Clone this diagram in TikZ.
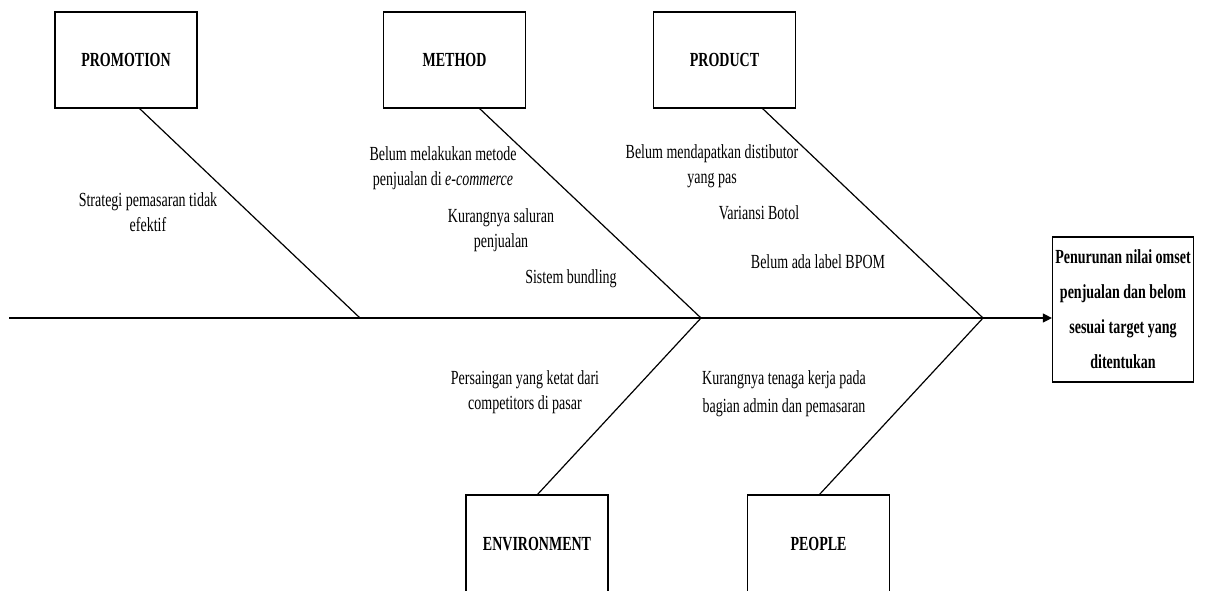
\documentclass[tikz,border=0pt]{standalone}
\usepackage{fontspec}
\setmainfont{Liberation Serif}[FakeStretch=0.7]
\usetikzlibrary{arrows.meta}
\begin{document}
\begin{tikzpicture}[x=1pt,y=-1pt,
  line width=1.2pt,
  catbox/.style={draw, line width=1.2pt, minimum width=142pt, minimum height=96pt, inner sep=0pt,
    font=\fontsize{20}{24}\selectfont\bfseries},
  catlbl/.style={inner sep=0pt, font=\fontsize{20}{24}\selectfont\bfseries},
  effectbox/.style={draw, line width=1.2pt, minimum width=141pt, minimum height=145pt, inner sep=0pt,
    align=center, font=\fontsize{20}{35}\selectfont\bfseries},
  cause/.style={align=center, inner sep=0pt, font=\fontsize{20}{25}\selectfont},
  bone/.style={line width=1.2pt}]
\useasboundingbox (0,0) rectangle (1207,590);

% category boxes
\node[catbox] (promo) at (126,60) {PROMOTION};
\node[catbox] (method) at (454.5,60) {METHOD};
\node[catbox] (product) at (724.5,60) {PRODUCT};
\node[catbox, minimum height=98pt] (env) at (537,544) {};
\node[catlbl] (envlbl) at (537,544) {ENVIRONMENT};
\node[catbox, minimum height=98pt] (people) at (818.5,544) {};
\node[catlbl] (peoplelbl) at (818.5,544) {PEOPLE};

% effect box
\node[effectbox] (effect) at (1123,309.5) {Penurunan nilai omset\\penjualan dan belom\\sesuai target yang\\ditentukan};

% spine
\coordinate (s0) at (9,318);
\coordinate (j1) at (360,318);
\coordinate (j2) at (701,318);
\coordinate (j3) at (983,318);
\draw[bone] (s0) -- (j1) -- (j2) -- (j3);
\draw[bone, -{Triangle[length=9pt,width=9pt]}] (j3) -- (j3 -| effect.west);

% bones
\coordinate (a1) at (139,108);
\coordinate (a2) at (479,108);
\coordinate (a3) at (762,108);
\coordinate (a4) at (537,495);
\coordinate (a5) at (819,495);
\draw[bone] (a1) -- (j1);
\draw[bone] (a2) -- (j2);
\draw[bone] (a3) -- (j3);
\draw[bone] (a4) -- (j2);
\draw[bone] (a5) -- (j3);

% causes
\node[cause] (c1) at (148,212) {Strategi pemasaran tidak\\efektif};
\node[cause] (c2) at (443,168) {Belum melakukan metode\\penjualan di \textit{e-commerce}};
\node[cause] (c3) at (501,230) {Kurangnya saluran\\penjualan};
\node[cause] (c4) at (571,279) {Sistem bundling};
\node[cause] (c5) at (712,166) {Belum mendapatkan distibutor\\yang pas};
\node[cause] (c6) at (759,213) {Variansi Botol};
\node[cause] (c7) at (818,262) {Belum ada label BPOM};
\node[cause] (c8) at (525,392) {Persaingan yang ketat dari\\competitors di pasar};
\node[cause, font=\fontsize{20}{28}\selectfont] (c9) at (784,394) {Kurangnya tenaga kerja pada\\bagian admin dan pemasaran};
\end{tikzpicture}
\end{document}
